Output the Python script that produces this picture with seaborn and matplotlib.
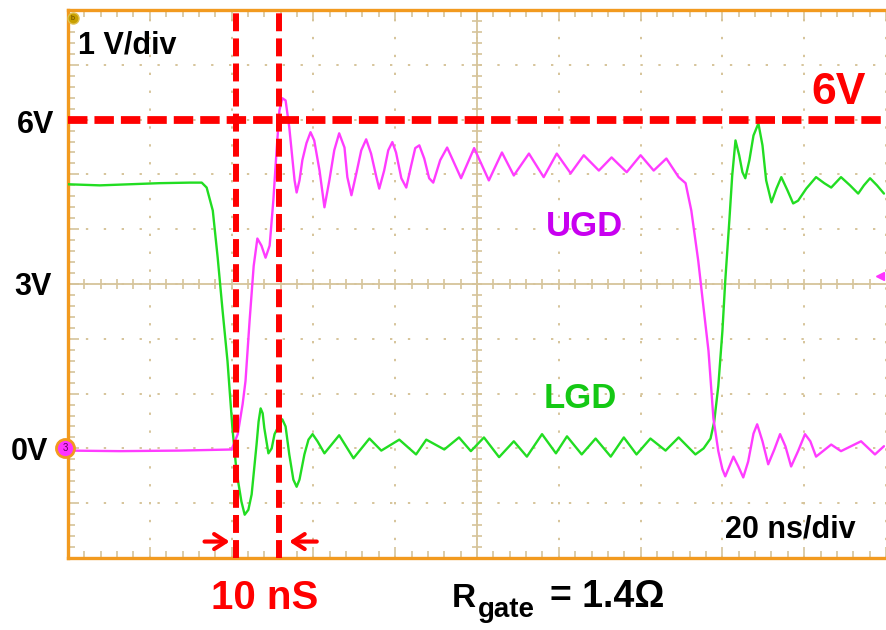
import numpy as np
import pandas as pd
import matplotlib
matplotlib.use("Agg")
import matplotlib.pyplot as plt
import seaborn as sns

# ---------------- data (time in ns, voltage in V) ----------------
lgd_t = [0, 7.8, 15.1, 22.4, 29.8, 32.7, 33.9, 35.4, 36.6, 37.8, 39.0, 40.2, 41.2, 42.4,
         43.2, 44.1, 44.9, 46.1, 46.6, 47.1, 47.6, 48.0, 49.0, 49.8, 50.5, 51.7, 52.4, 53.2,
         54.1, 55.1, 55.9, 56.6, 57.8, 58.8, 59.8, 61.0,
         62.7, 66.3, 69.8, 73.7, 76.6, 81.0, 85.1, 87.6, 92.0, 95.6, 98.5, 101.7, 105.4,
         109.0, 112.2, 115.9, 119.3, 122.0, 125.6, 129.0, 132.7, 135.9, 139.0, 142.4,
         146.1, 149.3, 153.4, 155.4, 157.1, 158.0, 159.0, 160.0, 160.7, 161.7, 162.4,
         163.2, 164.1, 164.9, 165.6, 166.6, 167.6, 168.8, 169.8, 170.7, 172.0, 173.2,
         174.4, 175.9, 177.3, 178.5, 180.5, 182.9, 184.9, 186.6, 189.0, 191.2, 193.2,
         194.6, 196.1, 197.8, 199.5]
lgd_v = [4.82, 4.80, 4.82, 4.84, 4.85, 4.85, 4.76, 4.34, 3.48, 2.51, 1.59, 0.37, -0.42, -0.97,
         -1.21, -1.12, -0.84, 0.07, 0.49, 0.73, 0.64, 0.37, -0.09, 0.00, 0.26, 0.44, 0.53, 0.40,
         -0.11, -0.57, -0.70, -0.57, -0.11, 0.16, 0.26, 0.13,
         -0.09, 0.24, -0.18, 0.18, -0.04, 0.16, -0.11, 0.16, -0.02, 0.20, -0.05, 0.20, -0.16,
         0.13, -0.15, 0.26, -0.09, 0.22, -0.11, 0.18, -0.15, 0.20, -0.11, 0.18,
         -0.04, 0.20, -0.11, 0.00, 0.18, 0.49, 1.14, 2.14, 3.06, 4.16, 4.98,
         5.62, 5.35, 5.04, 4.93, 5.26, 5.71, 5.93, 5.53, 4.89, 4.49, 4.74,
         4.95, 4.71, 4.47, 4.52, 4.74, 4.95, 4.84, 4.76, 4.95, 4.80, 4.65,
         4.80, 4.93, 4.80, 4.65]

ugd_t = [0, 12.7, 27.3, 40.0, 41.5, 42.7, 43.4, 44.4, 45.4, 46.3, 47.3, 48.3, 49.3, 50.2,
         51.0, 51.7, 52.4, 53.2, 54.1, 54.9, 55.4, 55.9, 56.6, 57.3, 58.3, 59.3, 60.2, 61.5,
         62.7, 63.9, 65.1, 66.3, 67.6, 68.3, 69.3, 70.5, 71.7, 72.9, 74.1, 75.4, 76.1, 77.3,
         78.3, 79.3, 80.2, 81.5, 82.7, 83.9, 84.9, 85.9, 87.1, 88.3, 89.3, 91.0,
         92.7, 96.1, 99.3, 102.9, 106.1, 109.0, 112.7, 116.3, 119.5, 122.9, 126.1, 129.8,
         132.9, 136.6, 140.0, 143.2, 146.3, 149.3, 151.0, 152.4, 154.1, 155.4, 156.6,
         157.8, 159.0, 160.0, 160.7, 161.7, 162.7, 163.9, 165.1, 166.3, 167.6, 168.5, 169.8,
         171.2, 172.7, 174.1, 175.4, 176.8, 178.5, 180.2, 181.5, 182.9,
         186.6, 189.0, 193.9, 197.3, 199.5]
ugd_v = [-0.04, -0.05, -0.04, -0.02, 0.26, 0.81, 1.23, 2.33, 3.33, 3.83, 3.70, 3.48, 3.70, 4.52,
         5.44, 6.17, 6.39, 6.35, 5.86, 5.26, 4.89, 4.67, 4.89, 5.26, 5.57, 5.77, 5.62, 5.07,
         4.40, 4.89, 5.44, 5.75, 5.49, 4.95, 4.62, 5.02, 5.44, 5.64, 5.38, 4.95, 4.74, 5.07,
         5.44, 5.59, 5.40, 4.93, 4.76, 5.16, 5.48, 5.53, 5.29, 4.93, 4.85, 5.26,
         5.49, 4.93, 5.48, 4.89, 5.40, 4.98, 5.38, 4.95, 5.38, 5.02, 5.35, 5.07,
         5.31, 5.04, 5.35, 5.07, 5.29, 4.95, 4.84, 4.34, 3.42, 2.56, 1.78,
         0.55, -0.05, -0.38, -0.51, -0.33, -0.15, -0.33, -0.53, -0.24, 0.27, 0.44, 0.13,
         -0.29, -0.02, 0.26, 0.04, -0.33, -0.05, 0.26, 0.13, -0.15,
         0.07, -0.05, 0.13, -0.11, 0.04]

cursor_t = [41.0, 51.6]      # ns, vertical red cursors (10 ns apart)
cursor_v = 6.0               # V, horizontal red cursor
arrow_v = -1.70
left_arrow = (32.7, 40.2)
right_arrow = (61.5, 53.4)

y_labels = ["6V", "3V", "0V"]

# ---------------- styling ----------------
sns.set_theme(style="white")
plt.rcParams["font.family"] = ["Liberation Sans", "DejaVu Sans"]

W, H = 886, 630
fig = plt.figure(figsize=(W / 100, H / 100), dpi=100)
L, R, T, B = 68, 886, 10, 558
ax = fig.add_axes([L / W, 1 - B / H, (R - L) / W, (B - T) / H])
ax.set_xlim(0, 200 * (R - L) / 820)
ax.set_ylim(-2, 8)

orange = "#F29A1F"
tan = "#D6C49A"
for s in ["left", "bottom", "top"]:
    ax.spines[s].set_color(orange)
    ax.spines[s].set_linewidth(2.4)
ax.spines["right"].set_visible(False)

ax.set_xticks(np.arange(0, 201, 20))
ax.set_xticks(np.arange(0, 201, 4), minor=True)
ax.set_yticks(np.arange(-2, 8.01, 1))
ax.set_yticks(np.arange(-2, 8.01, 0.2), minor=True)
ax.tick_params(which="both", direction="in", top=True, bottom=True, left=True, right=False,
               labelbottom=False, labelleft=False, color=tan, width=1.2)
ax.tick_params(which="major", length=8)
ax.tick_params(which="minor", length=5)
ax.grid(which="major", color=tan, linestyle=(0, (1.2, 8)), linewidth=1.4)

# center cross-hair with small ticks
ax.axvline(100, color=tan, lw=1.3, zorder=1)
ax.axhline(3, color=tan, lw=1.3, zorder=1)
ax.plot(np.arange(0, 200, 4), np.full(50, 3.0), ls="none", marker="|", ms=7, mew=1.2, color=tan, zorder=1)
ax.plot(np.full(50, 100.0), np.arange(-2, 8, 0.2), ls="none", marker="_", ms=7, mew=1.2, color=tan, zorder=1)

# traces
sns.lineplot(x=lgd_t, y=lgd_v, color="#22DD22", lw=1.7, ax=ax, estimator=None, zorder=3)
sns.lineplot(x=ugd_t, y=ugd_v, color="#FF3CFF", lw=1.7, ax=ax, estimator=None, zorder=3)

# red cursors
ax.axhline(cursor_v, color="#FF0000", lw=5.6, linestyle=(0, (2.5, 0.9)), zorder=4)
for t in cursor_t:
    ax.axvline(t, color="#FF0000", lw=4.3, linestyle=(0, (3.0, 1.2)), zorder=4)
for (t0, t1) in [left_arrow, right_arrow]:
    ax.annotate("", xy=(t1, arrow_v), xytext=(t0, arrow_v),
                arrowprops=dict(arrowstyle="->,head_length=0.7,head_width=0.45",
                                color="#FF0000", lw=3), zorder=5)

# scope markers
ax.plot([1.2], [7.85], marker="o", ms=8, color="#C8A000", mec="#E0C050", clip_on=False, zorder=6)
ax.text(1.2, 7.85, "b", fontsize=5, ha="center", va="center", color="#604000", zorder=7)
ax.plot([-0.7], [0.0], marker="o", ms=13, color="#FF33FF", mec=orange, mew=2, clip_on=False, zorder=6)
ax.text(-0.7, 0.0, "3", fontsize=7, ha="center", va="center", color="#600060", zorder=7, clip_on=False)
ax.plot([198.5], [3.15], marker="<", ms=6, color="#FF33FF", clip_on=False, zorder=6)

# texts
def ftext(x, y, s, **kw):
    fig.text(x / W, 1 - y / H, s, **kw)

bold = dict(fontweight="bold")
ftext(78, 45, "1 V/div", fontsize=22, va="center", ha="left", color="black", **bold)
ftext(36, 125, y_labels[0], fontsize=22, va="center", ha="center", color="black", **bold)
ftext(33, 287, y_labels[1], fontsize=22, va="center", ha="center", color="black", **bold)
ftext(29, 452, y_labels[2], fontsize=22, va="center", ha="center", color="black", **bold)
ftext(839, 92, "6V", fontsize=32, va="center", ha="center", color="#FF0000", **bold)
ftext(584, 226, "UGD", fontsize=25, va="center", ha="center", color="#C800F0", **bold)
ftext(580, 399, "LGD", fontsize=25, va="center", ha="center", color="#14C814", **bold)
ftext(790, 530, "20 ns/div", fontsize=22, va="center", ha="center", color="black", **bold)
ftext(265, 598, "10 nS", fontsize=29, va="center", ha="center", color="#FF0000", **bold)
ftext(452, 607, "R", fontsize=24, va="baseline", ha="left", color="black", **bold)
ftext(478, 617, "gate", fontsize=20, va="baseline", ha="left", color="black", **bold)
ftext(550, 607, "= 1.4\u03a9", fontsize=27, va="baseline", ha="left", color="black", **bold)

fig.savefig("out.png", dpi=100)
